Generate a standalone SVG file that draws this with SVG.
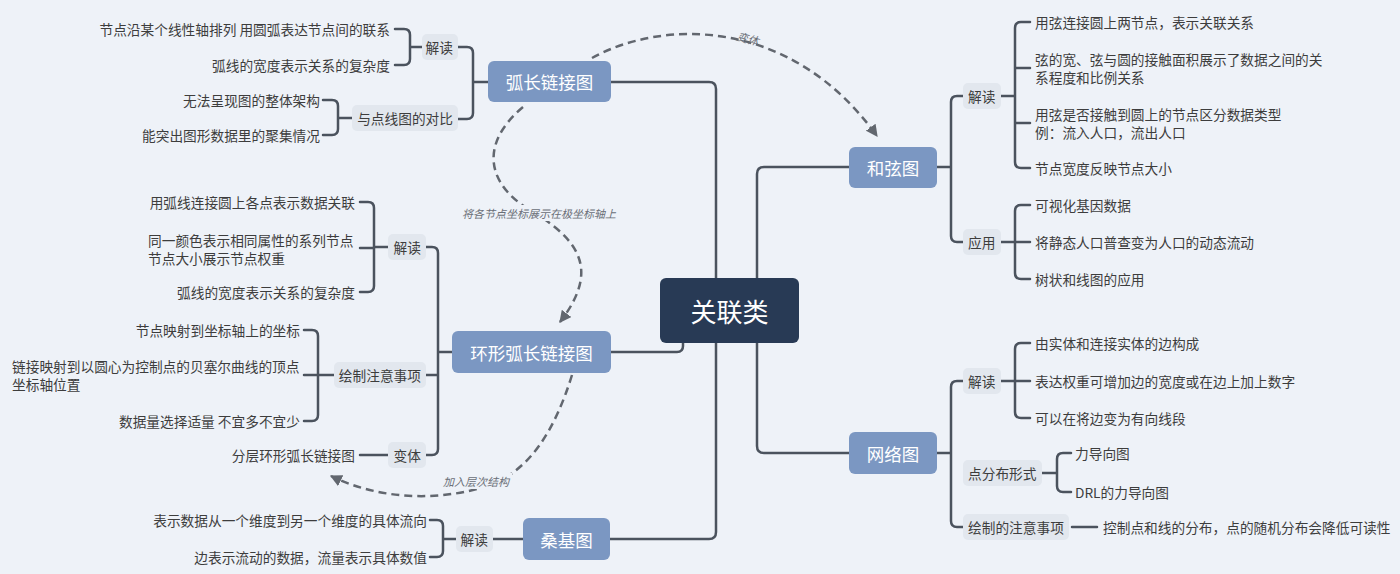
<svg xmlns="http://www.w3.org/2000/svg" width="1400" height="574" viewBox="0 0 1400 574">
<defs>
<style>
.bg{fill:#eef2f8}
.ln{fill:none;stroke:#4b535e;stroke-width:2.5;stroke-linecap:round;stroke-linejoin:round}
.dash{fill:none;stroke:#62676f;stroke-width:2.5;stroke-dasharray:8 5}
.t{font-family:"Noto Sans CJK SC","Noto Sans",sans-serif;font-size:13.7px;fill:#3d3d3d;dominant-baseline:central}
.e{text-anchor:end}
.lb{fill:#e2e7ee}
.nd{fill:#7b97c2}
.nt{font-family:"Noto Sans CJK SC","Noto Sans",sans-serif;font-size:17.5px;fill:#ffffff;text-anchor:middle;dominant-baseline:central}
.ct{font-family:"Noto Sans CJK SC","Noto Sans",sans-serif;font-size:26px;fill:#ffffff;text-anchor:middle;dominant-baseline:central}
.al{font-family:"Noto Sans CJK SC","Noto Sans",sans-serif;font-size:11px;fill:#6a6f77;font-style:italic;text-anchor:middle;dominant-baseline:central}
</style>
<marker id="arr" viewBox="0 0 10 10" refX="9" refY="5" markerWidth="12" markerHeight="12" markerUnits="userSpaceOnUse" orient="auto">
<path d="M0,0 L10,5 L0,10 z" fill="#62676f"/>
</marker>
</defs>
<rect class="bg" x="0" y="0" width="1400" height="574"/>

<g id="connectors">
<path class="ln" d="M611,82 H709 Q716,82 716,89 V532 Q716,539 709,539 H610"/>
<path class="ln" d="M611,352 H677 Q683,352 683,346 V340"/>
<path class="ln" d="M849,167 H764 Q757,167 757,174 V446 Q757,453 764,453 H849"/>
<path class="ln" d="M488,82 H473 M458,47 H467 Q473,47 473,53 V113 Q473,119 467,119 H458"/>
<path class="ln" d="M422,47 H410 M395,29 H404 Q410,29 410,35 V59 Q410,65 404,65 H395"/>
<path class="ln" d="M352,118 H338 M323,100 H332 Q338,100 338,106 V129 Q338,135 332,135 H323"/>
<path class="ln" d="M452,352 H438 M426,247 H432 Q438,247 438,253 V449 Q438,455 432,455 H426 M438,375 H426"/>
<path class="ln" d="M388,247 H374 M360,202 H368 Q374,202 374,208 V286 Q374,292 368,292 H360 M374,248 H360"/>
<path class="ln" d="M334,375 H318 M304,330 H312 Q318,330 318,336 V415 Q318,421 312,421 H304 M318,375 H304"/>
<path class="ln" d="M388,455 H360"/>
<path class="ln" d="M523,539 H493 M456,539 H443 M430,520 H437 Q443,520 443,526 V551 Q443,557 437,557 H430"/>
<path class="ln" d="M937,167 H951 M963,96 H957 Q951,96 951,102 V236 Q951,242 957,242 H963"/>
<path class="ln" d="M1001,96 H1015 M1030,22 H1021 Q1015,22 1015,28 V162 Q1015,168 1021,168 H1030 M1015,68 H1030 M1015,123 H1030"/>
<path class="ln" d="M1001,242 H1015 M1030,205 H1021 Q1015,205 1015,211 V273 Q1015,279 1021,279 H1030 M1015,242 H1030"/>
<path class="ln" d="M937,453 H951 M963,381 H957 Q951,381 951,387 V521 Q951,527 957,527 H963"/>
<path class="ln" d="M1001,381 H1015 M1030,343 H1021 Q1015,343 1015,349 V412 Q1015,418 1021,418 H1030 M1015,381 H1030"/>
<path class="ln" d="M1042,473 H1057 M1071,453 H1063 Q1057,453 1057,459 V486 Q1057,492 1063,492 H1071"/>
<path class="ln" d="M1072,527 H1097"/>
<path class="dash" d="M592,58 C660,20 790,15 877,136" marker-end="url(#arr)"/>
<path class="dash" d="M523,107 C478,145 488,185 530,210 C580,240 600,270 560,322" marker-end="url(#arr)"/>
<path class="dash" d="M572,375 C555,430 530,470 490,485 C440,502 380,500 331,476" marker-end="url(#arr)"/>
<text class="al" x="748" y="38" transform="rotate(15 748 38)">变体</text>
<rect class="bg" x="462" y="205" width="155" height="16"/>
<text class="al" x="539" y="213">将各节点坐标展示在极坐标轴上</text>
<rect class="bg" x="440" y="473" width="72" height="16"/>
<text class="al" x="476" y="481">加入层次结构</text>
</g>

<g id="center">
<rect x="660" y="278" width="139" height="65" rx="6" fill="#283a55"/>
<text class="ct" x="729.5" y="310.5">关联类</text>
</g>

<g id="node-arc">
<rect class="nd" x="488" y="61" width="123" height="41" rx="6"/>
<text class="nt" x="549.5" y="81.5">弧长链接图</text>
</g>
<g id="node-arc-a">
<rect class="lb" x="422" y="34" width="36" height="26" rx="5"/>
<text class="t e" x="453" y="47">解读</text>
<text class="t e" x="390" y="29">节点沿某个线性轴排列 用圆弧表达节点间的联系</text>
<text class="t e" x="390" y="65">弧线的宽度表示关系的复杂度</text>
</g>
<g id="node-arc-b">
<rect class="lb" x="352" y="105" width="106" height="26" rx="5"/>
<text class="t e" x="453" y="118">与点线图的对比</text>
<text class="t e" x="320" y="100">无法呈现图的整体架构</text>
<text class="t e" x="320" y="135">能突出图形数据里的聚集情况</text>
</g>

<g id="node-ring">
<rect class="nd" x="452" y="331" width="159" height="42" rx="6"/>
<text class="nt" x="531.5" y="352">环形弧长链接图</text>
</g>
<g id="node-ring-a">
<rect class="lb" x="388" y="234" width="38" height="26" rx="5"/>
<text class="t e" x="421" y="247">解读</text>
<text class="t e" x="355" y="202">用弧线连接圆上各点表示数据关联</text>
<text class="t" x="148" y="240">同一颜色表示相同属性的系列节点</text>
<text class="t" x="148" y="258">节点大小展示节点权重</text>
<text class="t e" x="355" y="292">弧线的宽度表示关系的复杂度</text>
</g>
<g id="node-ring-b">
<rect class="lb" x="334" y="362" width="92" height="26" rx="5"/>
<text class="t e" x="421" y="375">绘制注意事项</text>
<text class="t e" x="300" y="330">节点映射到坐标轴上的坐标</text>
<text class="t" x="12" y="366">链接映射到以圆心为控制点的贝塞尔曲线的顶点</text>
<text class="t" x="12" y="384">坐标轴位置</text>
<text class="t e" x="300" y="421">数据量选择适量 不宜多不宜少</text>
</g>
<g id="node-ring-c">
<rect class="lb" x="388" y="442" width="38" height="26" rx="5"/>
<text class="t e" x="421" y="455">变体</text>
<text class="t e" x="355" y="455">分层环形弧长链接图</text>
</g>

<g id="node-sankey">
<rect class="nd" x="523" y="518" width="87" height="42" rx="6"/>
<text class="nt" x="566.5" y="539">桑基图</text>
</g>
<g id="node-sankey-a">
<rect class="lb" x="456" y="526" width="37" height="26" rx="5"/>
<text class="t e" x="488" y="539">解读</text>
<text class="t e" x="427" y="520">表示数据从一个维度到另一个维度的具体流向</text>
<text class="t e" x="427" y="557">边表示流动的数据，流量表示具体数值</text>
</g>

<g id="node-chord">
<rect class="nd" x="849" y="147" width="88" height="41" rx="6"/>
<text class="nt" x="893" y="167.5">和弦图</text>
</g>
<g id="node-chord-a">
<rect class="lb" x="963" y="83" width="38" height="26" rx="5"/>
<text class="t" x="968" y="96">解读</text>
<text class="t" x="1035" y="22">用弦连接圆上两节点，表示关联关系</text>
<text class="t" x="1035" y="59">弦的宽、弦与圆的接触面积展示了数据之间的关</text>
<text class="t" x="1035" y="77">系程度和比例关系</text>
<text class="t" x="1035" y="114">用弦是否接触到圆上的节点区分数据类型</text>
<text class="t" x="1035" y="132">例：流入人口，流出人口</text>
<text class="t" x="1035" y="168">节点宽度反映节点大小</text>
</g>
<g id="node-chord-b">
<rect class="lb" x="963" y="229" width="38" height="26" rx="5"/>
<text class="t" x="968" y="242">应用</text>
<text class="t" x="1035" y="205">可视化基因数据</text>
<text class="t" x="1035" y="242">将静态人口普查变为人口的动态流动</text>
<text class="t" x="1035" y="279">树状和线图的应用</text>
</g>

<g id="node-network">
<rect class="nd" x="849" y="432" width="88" height="42" rx="6"/>
<text class="nt" x="893" y="453">网络图</text>
</g>
<g id="node-network-a">
<rect class="lb" x="963" y="368" width="38" height="26" rx="5"/>
<text class="t" x="968" y="381">解读</text>
<text class="t" x="1035" y="343">由实体和连接实体的边构成</text>
<text class="t" x="1035" y="381">表达权重可增加边的宽度或在边上加上数字</text>
<text class="t" x="1035" y="418">可以在将边变为有向线段</text>
</g>
<g id="node-network-b">
<rect class="lb" x="963" y="460" width="79" height="26" rx="5"/>
<text class="t" x="968" y="473">点分布形式</text>
<text class="t" x="1075" y="453">力导向图</text>
<text class="t" x="1075" y="492">DRL的力导向图</text>
</g>
<g id="node-network-c">
<rect class="lb" x="963" y="514" width="106" height="26" rx="5"/>
<text class="t" x="968" y="527">绘制的注意事项</text>
<text class="t" x="1103" y="527">控制点和线的分布，点的随机分布会降低可读性</text>
</g>
</svg>
